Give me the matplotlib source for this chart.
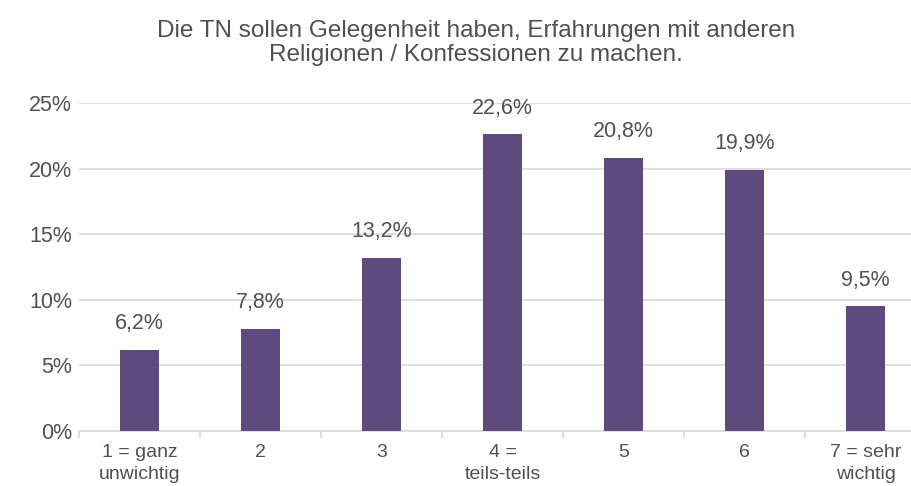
import matplotlib
matplotlib.use("Agg")
import matplotlib.pyplot as plt
from matplotlib.ticker import FuncFormatter

categories = ["1 = ganz\nunwichtig", "2", "3", "4 =\nteils-teils", "5", "6", "7 = sehr\nwichtig"]
values = [6.2, 7.8, 13.2, 22.6, 20.8, 19.9, 9.5]
title = "Die TN sollen Gelegenheit haben, Erfahrungen mit anderen\nReligionen / Konfessionen zu machen."

plt.rcParams['font.family'] = ['Liberation Sans', 'DejaVu Sans']
txt = "#505050"

fig = plt.figure(figsize=(9.12, 4.86), dpi=100)
ax = fig.add_axes([79/912, 1 - 431/486, 847/912, 328/486])

x = list(range(len(categories)))
ax.bar(x, values, width=0.32, color="#5E4A7C", zorder=3)
for xi, v in zip(x, values):
    ax.text(xi, v + 1.2, f"{v:.1f}%".replace(".", ","), ha="center", va="bottom",
            fontsize=15.5, color=txt)

ax.set_xlim(-0.5, len(categories) - 0.5)
ax.set_ylim(0, 25)
ax.set_yticks([0, 5, 10, 15, 20, 25])
ax.yaxis.set_major_formatter(FuncFormatter(lambda v, p: f"{int(v)}%"))
ax.grid(axis="y", color="#D9D9D9", linewidth=1.2, zorder=0)
ax.set_xticks(x)
ax.set_xticklabels(categories, fontsize=14, color=txt, linespacing=1.4)
ax.set_xticks([i - 0.5 for i in range(len(categories) + 1)], minor=True)
ax.tick_params(axis="x", which="major", length=0, pad=9)
ax.tick_params(axis="x", which="minor", length=5, color="#D9D9D9", width=1.2)
ax.tick_params(axis="y", length=0, labelsize=15.5, labelcolor=txt, pad=5)
for s in ["top", "right", "left"]:
    ax.spines[s].set_visible(False)
ax.spines["bottom"].set_color("#D9D9D9")
ax.spines["bottom"].set_linewidth(1.2)

fig.text(476/912, 1 - 43/486, title, ha="center", va="center", fontsize=17.5,
         color=txt, linespacing=1.15)

fig.savefig("out.png", dpi=100)
